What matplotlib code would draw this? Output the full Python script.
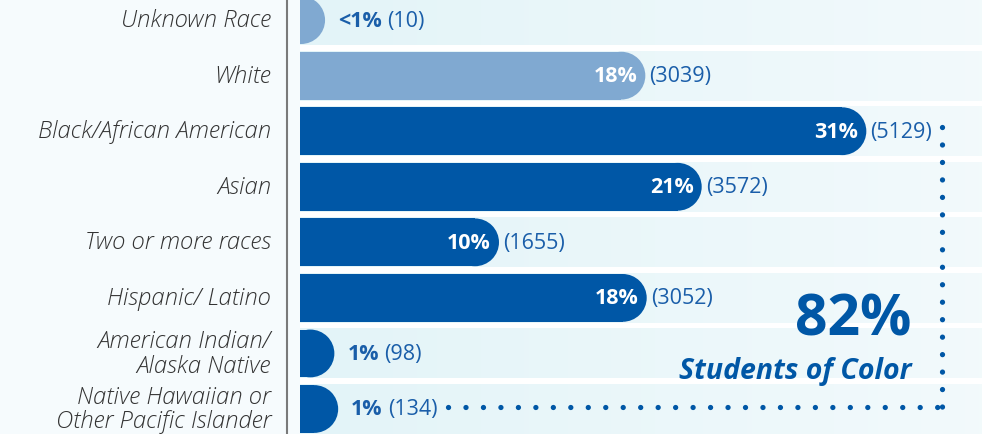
import numpy as np
import matplotlib.pyplot as plt
import matplotlib.transforms as mtransforms
from matplotlib.patches import Ellipse
from matplotlib.lines import Line2D

# data
categories = ['Unknown Race', 'White', 'Black/African American', 'Asian',
              'Two or more races', 'Hispanic/ Latino',
              'American Indian/\nAlaska Native',
              'Native Hawaiian or\nOther Pacific Islander']
counts = [10, 3039, 5129, 3572, 1655, 3052, 98, 134]
pct_labels = ['<1%', '18%', '31%', '21%', '10%', '18%', '1%', '1%']
light_rows = [0, 1]          # lighter-coloured bars
total_label = '82%'
total_caption = 'Students of Color'

DARK = '#0057a6'
LIGHT = '#80a9d1'
TXT_BLUE = '#1a5ea9'
BAND = '#e3f4f8'
FONT = 'Open Sans'

W, H = 982, 435
fig = plt.figure(figsize=(W / 100, H / 100), dpi=100)
fig.patch.set_facecolor('#f6fbfd')
ax = fig.add_axes([300 / W, 0, (W - 300) / W, 1])
ax.set_facecolor('white')
for s in ax.spines.values():
    s.set_visible(False)
ax.set_xticks([])
ax.set_yticks([])

xmax = 6450
ytop, ybot = -0.38, 7.45
y = np.arange(len(categories))
bar_h = 0.86

# row bands, fading to the right
ax.barh(y, xmax, height=0.9, color=BAND, zorder=1)
grad = np.ones((1, 256, 4))
grad[0, :, 3] = np.linspace(0, 0.55, 256)
ax.imshow(grad, extent=[0, xmax, ybot, ytop], aspect='auto', zorder=1.5)
ax.set_xlim(0, xmax)
ax.set_ylim(ybot, ytop)

# round caps: radius in pixels converted to data units
r_px = 24
cap_w = 2 * r_px * xmax / (W - 300)

colors = [LIGHT if i in light_rows else DARK for i in range(len(counts))]
ax.barh(y, counts, height=bar_h, color=colors, zorder=2)
for yi, c, col in zip(y, counts, colors):
    ax.add_patch(Ellipse((c, yi), cap_w, bar_h, color=col, zorder=2, lw=0))

# gray axis line
fig.add_artist(Line2D([287 / W] * 2, [0, 1], transform=fig.transFigure,
                      color='#7a7a7a', lw=1.5))

# category labels
for yi, cat in zip(y, categories):
    ax.annotate(cat, xy=(0, yi), xytext=(-29, 0), textcoords='offset pixels',
                ha='right', va='center', fontsize=17.2, style='italic',
                fontweight='light', family=FONT, color='#333333',
                linespacing=1.05, annotation_clip=False)

fig.canvas.draw()
renderer = fig.canvas.get_renderer()
for yi, c, p in zip(y, counts, pct_labels):
    if c > 1000:
        ax.annotate(p, xy=(c, yi), xytext=(r_px - 8, 0), textcoords='offset pixels',
                    ha='right', va='center', fontsize=15.5, fontweight='bold',
                    family=FONT, color='white', zorder=3)
        ax.annotate(f'({c})', xy=(c, yi), xytext=(r_px + 4, 0),
                    textcoords='offset pixels', ha='left', va='center',
                    fontsize=15.5, family=FONT, color=TXT_BLUE, zorder=3)
    else:
        t = ax.annotate(p, xy=(c, yi), xytext=(r_px + 13, 0),
                        textcoords='offset pixels', ha='left', va='center',
                        fontsize=15.5, fontweight='bold', family=FONT,
                        color=TXT_BLUE, zorder=3)
        bb = t.get_window_extent(renderer)
        ax.annotate(f'({c})', xy=(c, yi), xytext=(bb.width + r_px + 18, 0),
                    textcoords='offset pixels', ha='left', va='center',
                    fontsize=15.5, family=FONT, color=TXT_BLUE, zorder=3)

# dotted bracket
trans = mtransforms.blended_transform_factory(ax.transAxes, ax.transData)
xr = (942 - 300) / (W - 300)
xl = (448 - 300) / (W - 300)
dot = dict(color=DARK, lw=3.8, linestyle=(0, (0.01, 3.3)),
           dash_capstyle='round', transform=trans, zorder=3)
ax.plot([xr, xr], [1.93, 6.96], **dot)
ax.plot([xl, xr], [6.96, 6.96], **dot)

fig.text(911 / W, 1 - 321 / H, total_label, ha='right', va='center',
         fontsize=41, fontweight='bold', family=FONT, color=DARK)
fig.text(912 / W, 1 - 372 / H, total_caption, ha='right', va='center',
         fontsize=20.5, fontweight='bold', style='italic', family=FONT, color=DARK)

fig.savefig('out.png', dpi=100, facecolor=fig.get_facecolor())
